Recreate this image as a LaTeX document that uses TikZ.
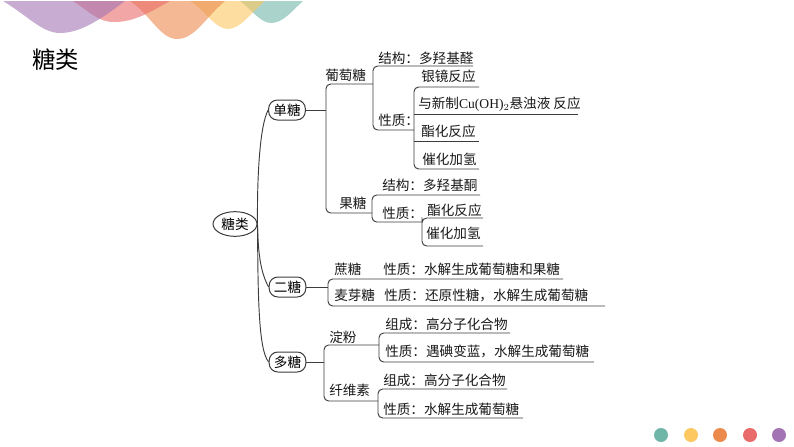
\documentclass[tikz,border=0pt]{standalone}
\usepackage{fontspec}
\setmainfont{Noto Sans CJK SC}
\newfontfamily\latinserif{Liberation Serif}
\usetikzlibrary{shapes.geometric}
\definecolor{linegray}{HTML}{3C3C3C}
\definecolor{wavepurple}{HTML}{A374B3}
\definecolor{wavered}{HTML}{E96A6A}
\definecolor{waveorange}{HTML}{EC8A4D}
\definecolor{waveyellow}{HTML}{FDC860}
\definecolor{waveteal}{HTML}{6FB5A8}
\tikzstyle{leaf}=[anchor=west,inner sep=0pt,font=\fontsize{10.2pt}{12pt}\selectfont,text=black!90]
\tikzstyle{sugar}=[rectangle,rounded corners=6.5pt,draw=linegray,line width=0.75pt,minimum width=27.5pt,minimum height=15pt,inner sep=0pt,font=\fontsize{10.2pt}{12pt}\selectfont]
\tikzstyle{rootnode}=[ellipse,draw=linegray,line width=0.75pt,minimum width=33pt,minimum height=18.5pt,inner sep=0pt,font=\fontsize{10.2pt}{12pt}\selectfont]
\tikzstyle{edge}=[draw=linegray,line width=0.7pt]
\tikzstyle{bracket}=[draw=linegray,line width=0.7pt,rounded corners=3.5pt]
\tikzstyle{wave}=[fill opacity=0.6]
\tikzstyle{dot}=[circle,minimum size=10.5pt,inner sep=0pt]

\begin{document}
\begin{tikzpicture}[x=0.75pt,y=-0.75pt]
    \useasboundingbox (0,0) rectangle (794,447);

    % Banner waves
    \fill[wave, fill=waveteal] (240,1) .. controls (250,8) and (260,23) .. (271,23) .. controls (283,23) and (292,11) .. (303,1) -- cycle;
    \fill[wave, fill=waveyellow] (190,1) .. controls (205,10) and (215,29) .. (228,29) .. controls (240,29) and (250,14) .. (265,1) -- cycle;
    \fill[wave, fill=waveorange] (130,1) .. controls (150,14) and (160,39) .. (177,39) .. controls (195,39) and (205,18) .. (225,1) -- cycle;
    \fill[wave, fill=wavered] (73,1) .. controls (90,12) and (98,22) .. (114,22) .. controls (135,22) and (150,12) .. (170,1) -- cycle;
    \fill[wave, fill=wavepurple] (3,1) .. controls (28,16) and (42,33) .. (60,33) .. controls (80,33) and (100,20) .. (125,1) -- cycle;

    % Title
    \node[anchor=west, inner sep=0pt, font=\fontsize{17.5pt}{20pt}\selectfont] (title) at (32,60) {糖类};

    % First we draw the sugar nodes
    \node[rootnode] (root) at (235,224) {糖类};
    \foreach \pos/\name/\label in {{(287,110)/mono/单糖}, {(287.5,287)/di/二糖}, {(287.5,362)/poly/多糖}}
        \node[sugar] (\name) at \pos {\label};

    % Text on the lines
    \foreach \pos/\name/\label in {{(325,75)/glu/葡萄糖}, {(339,203)/fru/果糖}, {(378,58)/gluA/结构：多羟基醛}, {(378,120)/gluB/性质：},
        {(421,76)/gluB1/银镜反应}, {(421,131)/gluB3/酯化反应}, {(422,159)/gluB4/催化加氢},
        {(382,185)/fruA/结构：多羟基酮}, {(382,213)/fruB/性质：}, {(427,210)/fruB1/酯化反应}, {(426,233)/fruB2/催化加氢},
        {(334,269)/suc/蔗糖}, {(334,295)/mal/麦芽糖}, {(383,269)/sucA/性质：水解生成葡萄糖和果糖}, {(384,295)/malA/性质：还原性糖，水解生成葡萄糖},
        {(329,337)/sta/淀粉}, {(329,390)/cel/纤维素}, {(385,324)/staA/组成：高分子化合物}, {(385,351)/staB/性质：遇碘变蓝，水解生成葡萄糖},
        {(383,380)/celA/组成：高分子化合物}, {(383,409)/celB/性质：水解生成葡萄糖}}
        \node[leaf] (\name) at \pos {\label};
    \node[leaf] (gluB2) at (418,104) {与新制{\latinserif Cu(OH)$_2$}悬浊液 反应};

    % Branch points and line ends
    \foreach \pos/\name in {{(326,110)/jMono}, {(373,84)/jGlu}, {(414,130)/jGluB}, {(372,213)/jFru}, {(422,222)/jFruB},
        {(328,289)/jDi}, {(324,363)/jPoly}, {(379,345)/jSta}, {(378,401)/jCel},
        {(473,66)/eGluA}, {(479,87)/eGluB1}, {(578,114)/eGluB2}, {(479,141)/eGluB3}, {(479,169)/eGluB4},
        {(480,195)/eFruA}, {(483,218)/eFruB1}, {(483,246)/eFruB2},
        {(563,279)/eSuc}, {(605,306)/eMal},
        {(510,333)/eStaA}, {(594,362)/eStaB}, {(507,389)/eCelA}, {(523,418)/eCelB}}
        \node[coordinate] (\name) at \pos {};

    % Connect the root with the sugar nodes
    \draw[edge] (root.east) .. controls (257,175) and (260,125) .. (mono.west);
    \draw[edge] (root.east) .. controls (258,250) and (260,272) .. (di.west);
    \draw[edge] (root.east) .. controls (258,290) and (258,350) .. (poly.west);

    % Stems
    \foreach \source/\dest in {mono/jMono, di/jDi, poly/jPoly}
        \draw[edge] (\source.east) -- (\source.east -| \dest);

    % Brackets
    \foreach \upper/\centre/\lower in {jGlu/jMono/jFru, eGluA/jGlu/jGluB, eGluB1/jGluB/eGluB4, eFruA/jFru/jFruB, eFruB1/jFruB/eFruB2,
        eSuc/jDi/eMal, jSta/jPoly/jCel, eStaA/jSta/eStaB, eCelA/jCel/eCelB}
        \draw[bracket] (\upper) -| (\centre) |- (\lower);

    % Inner lines
    \foreach \source/\dest in {eGluB2/jGluB, eGluB3/jGluB}
        \draw[edge] (\source) -- (\source -| \dest);

    % Dots
    \foreach \pos/\name/\col in {{(661,435)/dotA/6FB5A8}, {(691,435)/dotB/FDC860}, {(720,435)/dotC/EC8A4D}, {(750,435)/dotD/E96A6A}, {(779,435)/dotE/A374B3}}{
        \definecolor{dotcol}{HTML}{\col}
        \node[dot, fill=dotcol] (\name) at \pos {};
    }
\end{tikzpicture}
\end{document}
